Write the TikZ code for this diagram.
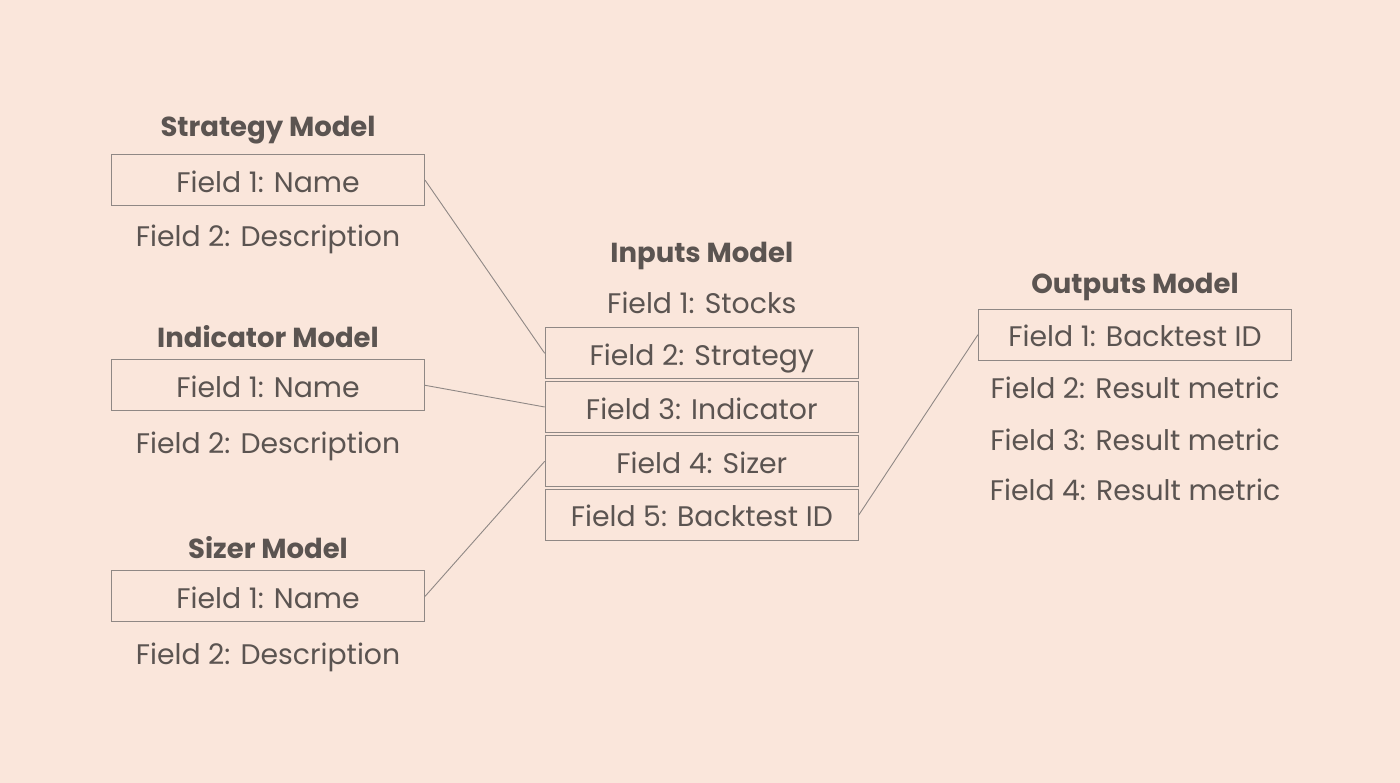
\documentclass[tikz,border=0pt]{standalone}
\usepackage{fontspec}
\setmainfont{Poppins}
\definecolor{peach}{HTML}{FAE6DB}
\definecolor{ink}{HTML}{5B5451}
\definecolor{frame}{HTML}{8F8885}

\begin{document}
\begin{tikzpicture}[x=1pt,y=-1pt,font=\fontsize{28.3}{31}\selectfont,text=ink,
fbox/.style={draw=frame,line width=1.2pt,minimum width=313pt,minimum height=51pt,
inner sep=0pt,text height=24pt,text depth=0pt},
ftext/.style={anchor=base,inner sep=0pt},
title/.style={anchor=base,inner sep=0pt,font=\fontsize{27.5}{30}\selectfont\bfseries}]
\fill[peach](0,0)rectangle(1400,783);
\useasboundingbox(0,0)rectangle(1400,783);

%%left models
\foreach \n/\t/\a/\b/\c in {S/Strategy/136.7/180.2/246.7,%
I/Indicator/347.3/385.3/453.3,Z/Sizer/558.3/596.3/664.3}{
\node[title](\n T)at(268,\a){\t{} Model};
\node[fbox](\n1)at(268,\b){Field 1: Name};
\node[ftext](\n2)at(268,\c){Field 2: Description};
}

%%inputs
\node[title](INT)at(701.8,262.7){Inputs Model};
\node[ftext](IN1)at(701.8,313.3){Field 1: Stocks};
\foreach \k/\y/\t in {2/353.3/Strategy,3/407/Indicator,4/461.3/Sizer,5/514.8/Backtest ID}
\node[fbox](IN\k)at(701.8,\y){Field \k: \t};

%%outputs
\node[title](OUTT)at(1135,293.3){Outputs Model};
\node[fbox](OUT1)at(1135,334.7){Field 1: Backtest ID};
\foreach \k/\y in {2/398.3,3/450,4/500}
\node[ftext](OUT\k)at(1135,\y){Field \k: Result metric};

%links
\draw[frame,line width=0.9pt](S1.east)--(IN2.west) (I1.east)--(IN3.west)
(Z1.east)--(IN4.west) (IN5.east)--(OUT1.west);
\end{tikzpicture}
\end{document}
